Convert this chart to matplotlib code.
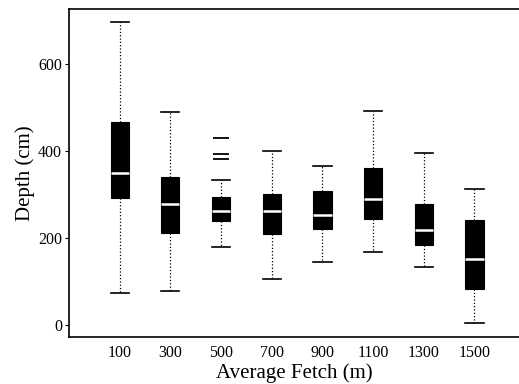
import matplotlib
matplotlib.use("Agg")
import matplotlib.pyplot as plt

plt.rcParams['font.family'] = ['Liberation Serif', 'DejaVu Serif']

fetch = ['100', '300', '500', '700', '900', '1100', '1300', '1500']
whis_lo = [73, 77, 178, 106, 145, 168, 134, 5]
q1 = [292, 212, 238, 210, 220, 244, 183, 83]
med = [348, 277, 262, 261, 252, 289, 219, 152]
q3 = [467, 339, 295, 300, 308, 360, 277, 242]
whis_hi = [696, 489, 333, 400, 366, 492, 394, 312]
outliers = [[], [], [380, 393, 429], [], [], [], [], []]

stats = []
for i in range(len(fetch)):
    stats.append(dict(label=fetch[i], whislo=whis_lo[i], q1=q1[i], med=med[i],
                      q3=q3[i], whishi=whis_hi[i], fliers=outliers[i]))

fig = plt.figure(figsize=(5.19, 3.84), dpi=100)
ax = fig.add_axes([0.133, 0.122, 0.867, 0.855])

ax.bxp(stats, positions=range(1, 9), widths=0.36, patch_artist=True,
       boxprops=dict(facecolor='black', edgecolor='black', linewidth=0.8),
       medianprops=dict(color='white', linewidth=1.8),
       whiskerprops=dict(color='black', linestyle=':', linewidth=0.9),
       capprops=dict(color='black', linewidth=1.2),
       capwidths=0.36,
       flierprops=dict(marker='_', markersize=11, markeredgecolor='black',
                       markeredgewidth=1.3))

ax.set_xlim(0, 8.88)
ax.set_ylim(-28, 726)
ax.set_yticks([0, 200, 400, 600])
ax.spines['right'].set_visible(False)
for s in ['left', 'bottom', 'top']:
    ax.spines[s].set_linewidth(1.2)
ax.tick_params(axis='x', length=0, labelsize=11.5, pad=6)
ax.tick_params(axis='y', length=3, labelsize=11.5, pad=2)
ax.set_xlabel('Average Fetch (m)', fontsize=15, labelpad=1)
ax.set_ylabel('Depth (cm)', fontsize=15, labelpad=2)

fig.savefig('out.png', dpi=100)
